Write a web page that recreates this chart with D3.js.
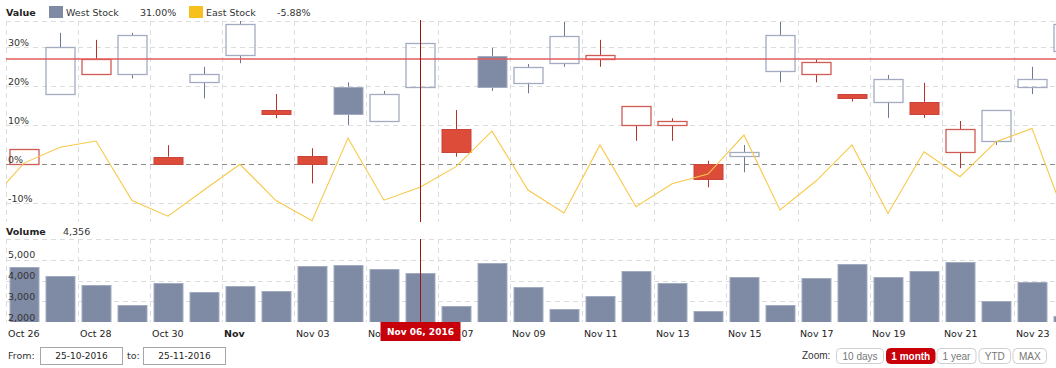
<!DOCTYPE html>
<html>
<head>
<meta charset="utf-8">
<script src="https://cdn.jsdelivr.net/npm/d3@7"></script>
<style>
  html, body { margin: 0; padding: 0; background: #fff; }
  svg { display: block; }
  text { font-family: "DejaVu Sans", Verdana, sans-serif; }
</style>
</head>
<body>
<svg id="chart" width="1056" height="368"></svg>
<script>
// ---------------- DATA ----------------
const dates = ["2016-10-25","2016-10-26","2016-10-27","2016-10-28","2016-10-29","2016-10-30","2016-10-31",
  "2016-11-01","2016-11-02","2016-11-03","2016-11-04","2016-11-05","2016-11-06","2016-11-07","2016-11-08",
  "2016-11-09","2016-11-10","2016-11-11","2016-11-12","2016-11-13","2016-11-14","2016-11-15","2016-11-16",
  "2016-11-17","2016-11-18","2016-11-19","2016-11-20","2016-11-21","2016-11-22","2016-11-23","2016-11-24"];

const westOpen  = [6, 0, 18, 23.1, 23.1, 1.95, 21, 28, 13.9, 2.1, 19.9, 11, 19.9, 9.05, 27.8, 20.9, 25.9, 26.9, 10, 10, 0, 2.05, 24, 23.1, 18, 16, 16, 3.1, 6, 19.9, 29.1];
const westHigh  = [10, 3.85, 33.7, 31.9, 33.7, 4.9, 25, 37.5, 18, 4.1, 21, 18.8, 31, 13.9, 29.9, 25.7, 36.5, 31.9, 14.9, 11.8, 0.9, 4.95, 36.5, 26.9, 18, 22.9, 20.9, 11.1, 13.9, 25, 38];
const westLow   = [4, 0, 18, 23.1, 22, 0, 16.9, 25.9, 11.8, -4.9, 10.1, 11, 19.9, 1.95, 18.8, 18.2, 25, 25, 6, 6, -5.9, -2.05, 21, 21, 16.1, 11.9, 11.9, -1, 4.95, 18, 29.1];
const westClose = [8, 3.85, 30, 26.9, 33.1, 0, 23.1, 35.9, 12.9, 0, 12.8, 18, 31, 3.1, 19.9, 24.9, 32.9, 27.9, 14.9, 11.1, -3.85, 3.1, 33.1, 26.2, 17, 21.9, 13, 9, 13.9, 21.9, 36];

const eastValues = [-10, 0.3, 4.36, 5.97, -9.3, -13.3, -6.6, 0, -9.3, -14.5, 6.7, -9.2, -5.88, -0.6, 8.5, -6.6, -12.5, 4.95, -10.9, -5.0, -2.5, 7.5, -11.7, -4.3, 4.95, -12.6, 3.2, -3.2, 5.8, 9.2, -15.5];

const volumes = [4000, 4636, 4217, 3783, 2819, 3880, 3446, 3735, 3494, 4715, 4747, 4554, 4356, 2771, 4859, 3703, 2610, 3253, 4474, 3863, 2514, 4169, 2819, 4137, 4795, 4169, 4442, 4892, 2996, 3912, 2289];

const xTickDates  = ["2016-10-26","2016-10-28","2016-10-30","2016-11-01","2016-11-03","2016-11-05","2016-11-07",
  "2016-11-09","2016-11-11","2016-11-13","2016-11-15","2016-11-17","2016-11-19","2016-11-21","2016-11-23"];
const xTickLabels = ["Oct 26","Oct 28","Oct 30","Nov","Nov 03","Nov 05","Nov 07","Nov 09","Nov 11","Nov 13",
  "Nov 15","Nov 17","Nov 19","Nov 21","Nov 23"];
const xTickBold = ["Nov"];

const valueTicks = [30, 20, 10, 0, -10];
const volumeTicks = [5000, 4000, 3000, 2000];

const seriesNames = ["West Stock", "East Stock"];
const hoverDate = "2016-11-06";
const hoverLabel = "Nov 06, 2016";
const markerLevel = 27;
const fromDate = "25-10-2016", toDate = "25-11-2016";
const zoomButtons = ["10 days", "1 month", "1 year", "YTD", "MAX"];
const activeZoom = "1 month";

// ---------------- SETUP ----------------
const svg = d3.select("#chart");
const parse = d3.utcParse("%Y-%m-%d");
const noon = s => d3.utcHour.offset(parse(s), 12);

const C = {
  grey: "#7f8aa5", greyEdge: "#a3abc0", greyWick: "#6f7892",
  red: "#dd4b39", redEdge: "#c9443a", redWick: "#b5322c", redHollow: "#cf5b55",
  yellow: "#f7c948", legendYellow: "#f6c11f", marker: "#e25d5d", cross: "#9b1515",
  grid: "#dcdcdc", zero: "#8a8a8a", text: "#333"
};

const plotL = 6, plotR = 1056;
const vTop = 21, vBot = 222;
const volTop = 239, volBot = 322;

const x = d3.scaleUtc()
  .domain([parse("2016-10-26"), d3.utcHour.offset(parse("2016-11-24"), 4)])
  .range([plotL, plotR]);
const candleW = 29;

const y = d3.scaleLinear().domain([-14.8, 36.74]).range([vBot, vTop]);
const yVol = d3.scaleLinear().domain([2000, 6000]).range([volBot, volTop]);

const data = dates.map((d, i) => ({
  date: noon(d), open: westOpen[i], high: westHigh[i], low: westLow[i], close: westClose[i],
  prevClose: i > 0 ? westClose[i - 1] : westClose[i], east: eastValues[i], vol: volumes[i], key: d
}));

const defs = svg.append("defs");
defs.append("clipPath").attr("id", "clipV").append("rect")
  .attr("x", plotL).attr("y", vTop).attr("width", plotR - plotL).attr("height", vBot - vTop);
defs.append("clipPath").attr("id", "clipVol").append("rect")
  .attr("x", plotL).attr("y", volTop).attr("width", plotR - plotL).attr("height", volBot - volTop);

// ---------------- GRIDS ----------------
function vGrid(top, bot) {
  const g = svg.append("g");
  g.selectAll("line").data(xTickDates).join("line")
    .attr("x1", d => Math.round(x(parse(d))) + 0.5).attr("x2", d => Math.round(x(parse(d))) + 0.5)
    .attr("y1", top).attr("y2", bot)
    .attr("stroke", C.grid).attr("stroke-dasharray", "5,4");
}
vGrid(vTop, vBot);
vGrid(volTop, volBot);

const gH = svg.append("g");
gH.append("line").attr("x1", plotL).attr("x2", plotR).attr("y1", vTop + 0.5).attr("y2", vTop + 0.5)
  .attr("stroke", C.grid).attr("stroke-dasharray", "5,4");
gH.selectAll("line.t").data(valueTicks).join("line").attr("class", "t")
  .attr("x1", plotL).attr("x2", plotR)
  .attr("y1", d => Math.round(y(d)) + 0.5).attr("y2", d => Math.round(y(d)) + 0.5)
  .attr("stroke", d => d === 0 ? C.zero : C.grid).attr("stroke-dasharray", "5,4");

const gHV = svg.append("g");
gHV.append("line").attr("x1", plotL).attr("x2", plotR).attr("y1", volTop + 0.5).attr("y2", volTop + 0.5)
  .attr("stroke", C.grid).attr("stroke-dasharray", "5,4");
gHV.selectAll("line.t").data(volumeTicks.filter(d => d > 2000)).join("line").attr("class", "t")
  .attr("x1", plotL).attr("x2", plotR)
  .attr("y1", d => Math.round(yVol(d)) + 0.5).attr("y2", d => Math.round(yVol(d)) + 0.5)
  .attr("stroke", C.grid).attr("stroke-dasharray", "5,4");

// ---------------- CANDLES ----------------
const gC = svg.append("g").attr("clip-path", "url(#clipV)");
data.forEach(d => {
  const cx = Math.round(x(d.date)) + 0.5;
  const rising = d.close >= d.prevClose;
  const hollow = d.close > d.open;
  const top = Math.max(d.open, d.close), bot = Math.min(d.open, d.close);
  const wick = rising ? C.greyWick : C.redWick;
  if (d.high > top) gC.append("line").attr("x1", cx).attr("x2", cx).attr("y1", y(d.high)).attr("y2", y(top)).attr("stroke", wick);
  if (d.low < bot) gC.append("line").attr("x1", cx).attr("x2", cx).attr("y1", y(bot)).attr("y2", y(d.low)).attr("stroke", wick);
  const yT = Math.round(y(top)) + 0.5, yB = Math.round(y(bot)) + 0.5;
  const r = gC.append("rect").attr("x", cx - candleW / 2).attr("y", yT)
    .attr("width", candleW).attr("height", Math.max(1, yB - yT));
  if (hollow) {
    r.attr("fill", "none").attr("stroke", rising ? C.greyEdge : C.redHollow).attr("stroke-width", 1.3);
  } else {
    r.attr("fill", rising ? C.grey : C.red).attr("stroke", rising ? C.greyEdge : C.redEdge).attr("stroke-width", 1);
  }
});

svg.append("path").attr("clip-path", "url(#clipV)")
  .datum(data)
  .attr("fill", "none").attr("stroke", C.yellow).attr("stroke-width", 1.1)
  .attr("d", d3.line().x(d => x(d.date)).y(d => y(d.east)));

svg.append("line").attr("x1", plotL).attr("x2", plotR)
  .attr("y1", y(markerLevel)).attr("y2", y(markerLevel))
  .attr("stroke", C.marker).attr("stroke-width", 1.4);

// ---------------- VOLUME ----------------
svg.append("g").attr("clip-path", "url(#clipVol)")
  .selectAll("rect").data(data).join("rect")
  .attr("x", d => Math.round(x(d.date)) + 0.5 - candleW / 2)
  .attr("y", d => Math.round(yVol(d.vol)) + 0.5)
  .attr("width", candleW)
  .attr("height", d => volBot - Math.round(yVol(d.vol)))
  .attr("fill", C.grey).attr("stroke", C.greyEdge).attr("stroke-width", 1);

// ---------------- AXIS LABELS ----------------
svg.append("g").selectAll("text").data(valueTicks).join("text")
  .attr("x", 8).attr("y", d => y(d) - 1.5)
  .attr("font-size", "9.5px").attr("fill", C.text)
  .text(d => d + "%");

svg.append("g").selectAll("text").data(volumeTicks).join("text")
  .attr("x", 8).attr("y", d => yVol(d) - 1.5)
  .attr("font-size", "9.5px").attr("fill", C.text)
  .text(d => d3.format(",")(d));

svg.append("g").selectAll("text").data(xTickDates).join("text")
  .attr("x", d => x(parse(d)) + 2).attr("y", 337)
  .attr("font-size", "9.5px").attr("fill", "#222")
  .attr("font-weight", (d, i) => xTickBold.includes(xTickLabels[i]) ? "bold" : "normal")
  .text((d, i) => xTickLabels[i]);

// ---------------- LEGEND ----------------
const hov = data.find(d => d.key === hoverDate);
svg.append("text").attr("x", 6).attr("y", 16).attr("font-size", "9.5px").attr("font-weight", "bold").attr("fill", "#222").text("Value");
svg.append("rect").attr("x", 49).attr("y", 6).attr("width", 14).attr("height", 12).attr("fill", C.grey);
svg.append("text").attr("x", 66).attr("y", 16).attr("font-size", "9.5px").attr("fill", C.text).text(seriesNames[0]);
svg.append("text").attr("x", 140).attr("y", 16).attr("font-size", "9.5px").attr("fill", C.text).text(hov.close.toFixed(2) + "%");
svg.append("rect").attr("x", 189).attr("y", 6).attr("width", 14).attr("height", 12).attr("fill", C.legendYellow);
svg.append("text").attr("x", 206).attr("y", 16).attr("font-size", "9.5px").attr("fill", C.text).text(seriesNames[1]);
svg.append("text").attr("x", 277).attr("y", 16).attr("font-size", "9.5px").attr("fill", C.text).text(hov.east.toFixed(2) + "%");

svg.append("text").attr("x", 6).attr("y", 234.5).attr("font-size", "9.5px").attr("font-weight", "bold").attr("fill", "#222").text("Volume");
svg.append("text").attr("x", 63).attr("y", 234.5).attr("font-size", "9.5px").attr("fill", C.text).text(d3.format(",")(hov.vol));

// ---------------- CROSSHAIR ----------------
const hx = Math.round(x(hov.date)) + 0.5;
svg.append("line").attr("x1", hx).attr("x2", hx).attr("y1", vTop - 1).attr("y2", vBot).attr("stroke", C.cross);
svg.append("line").attr("x1", hx).attr("x2", hx).attr("y1", volTop).attr("y2", volBot).attr("stroke", C.cross);
svg.append("rect").attr("x", hx - 40).attr("y", 322).attr("width", 80).attr("height", 19).attr("fill", "#c8000a");
svg.append("text").attr("x", hx).attr("y", 335).attr("text-anchor", "middle")
  .attr("font-size", "9px").attr("font-weight", "bold").attr("fill", "#fff").text(hoverLabel);

// ---------------- RANGE SELECTOR ----------------
svg.append("text").attr("x", 8).attr("y", 359).attr("font-size", "9.5px").attr("fill", C.text).text("From:");
svg.append("rect").attr("x", 40.5).attr("y", 347.5).attr("width", 82).attr("height", 17).attr("fill", "#fff").attr("stroke", "#a6a6a6");
svg.append("text").attr("x", 81.5).attr("y", 359).attr("text-anchor", "middle").attr("font-size", "9px").attr("fill", "#222").text(fromDate);
svg.append("text").attr("x", 127).attr("y", 359).attr("font-size", "9.5px").attr("fill", C.text).text("to:");
svg.append("rect").attr("x", 143.5).attr("y", 347.5).attr("width", 82).attr("height", 17).attr("fill", "#fff").attr("stroke", "#a6a6a6");
svg.append("text").attr("x", 184.5).attr("y", 359).attr("text-anchor", "middle").attr("font-size", "9px").attr("fill", "#222").text(toDate);

svg.append("text").attr("x", 802).attr("y", 359).attr("font-size", "10px").attr("fill", C.text)
  .style("font-family", "'Liberation Sans', Arial, sans-serif").text("Zoom:");
const btnX = [836.5, 886.5, 937, 979, 1013];
const btnW = [47, 48.5, 39, 31.5, 33.5];
zoomButtons.forEach((b, i) => {
  const active = b === activeZoom;
  svg.append("rect").attr("x", btnX[i]).attr("y", 348.5).attr("width", btnW[i]).attr("height", 15).attr("rx", 4)
    .attr("fill", active ? "#c8000a" : "#fff").attr("stroke", active ? "#c8000a" : "#cfcfcf");
  svg.append("text").attr("x", btnX[i] + btnW[i] / 2).attr("y", 359.5).attr("text-anchor", "middle")
    .attr("font-size", "10px").attr("font-weight", active ? "bold" : "normal")
    .attr("fill", active ? "#fff" : "#777")
    .style("font-family", "'Liberation Sans', Arial, sans-serif").text(b);
});
</script>
</body>
</html>
